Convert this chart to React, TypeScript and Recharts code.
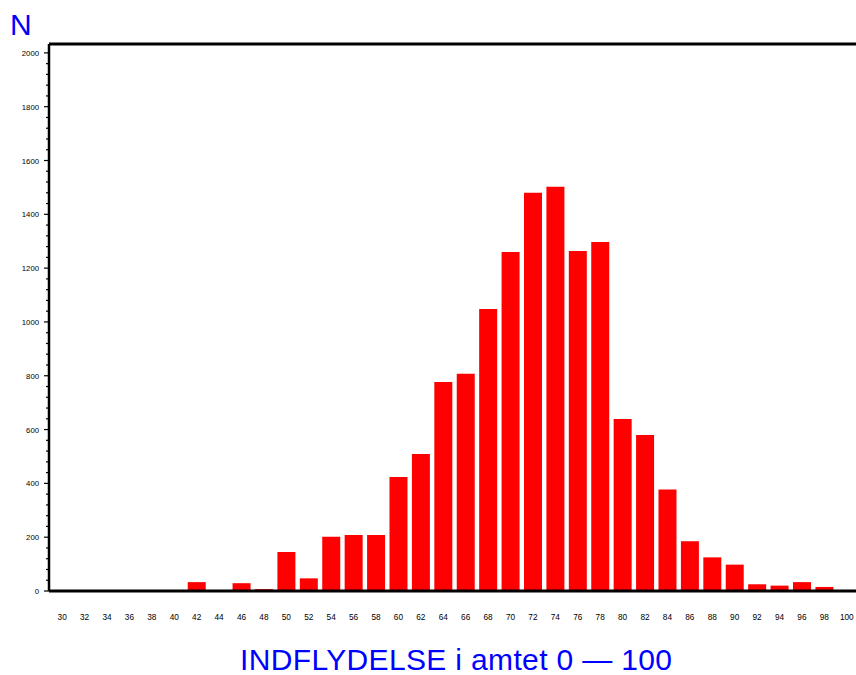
import { BarChart, Bar, XAxis, YAxis, ReferenceLine, Customized } from 'recharts'

// score buckets on the x axis
const categories = [
  '30', '32', '34', '36', '38', '40', '42', '44', '46', '48', '50', '52',
  '54', '56', '58', '60', '62', '64', '66', '68', '70', '72', '74', '76',
  '78', '80', '82', '84', '86', '88', '90', '92', '94', '96', '98', '100',
]

// N per bucket
const counts = [
  0, 0, 0, 0, 0, 0, 33, 0, 29, 7, 145, 47,
  202, 208, 208, 424, 509, 777, 807, 1048, 1260, 1480, 1502, 1264,
  1297, 639, 580, 377, 185, 125, 98, 25, 20, 33, 15, 0,
]

// y ticks every 40, labelled every 200
const yTicks = Array.from({ length: 51 }, (_, i) => i * 40)

const chartData = categories.map((c, i) => ({ score: c, n: counts[i] }))

const BLUE = '#0000ff'
const TICK_FONT = '"Liberation Sans", Arial, sans-serif'

function YTick({ x, y, payload }: any) {
  const major = payload.value % 200 === 0
  const label = String(payload.value)
  return (
    <g>
      <line x1={x - (major ? 5 : 3)} x2={x} y1={y} y2={y} stroke="#000" strokeWidth={1.2} />
      {major && (
        <text
          x={x - 10}
          y={y + 3}
          textAnchor="end"
          fontSize={8}
          fontFamily={TICK_FONT}
          fill="#000"
          textLength={label.length * 4.3}
          lengthAdjust="spacingAndGlyphs"
        >
          {label}
        </text>
      )}
    </g>
  )
}

function XTick({ x, y, payload }: any) {
  const label = String(payload.value)
  return (
    <text
      x={x - (label.length * 4.6) / 2}
      y={y + 29}
      fontSize={9.5}
      fontFamily={TICK_FONT}
      fill="#000"
      textLength={label.length * 4.6}
      lengthAdjust="spacingAndGlyphs"
    >
      {label}
    </text>
  )
}

function Titles() {
  return (
    <g fontFamily={TICK_FONT} fill={BLUE}>
      <text x={10} y={35} fontSize={30}>N</text>
      <text x={240} y={670} fontSize={30} textLength={432} lengthAdjust="spacing">
        INDFLYDELSE i amtet 0 — 100
      </text>
    </g>
  )
}

export default function App() {
  return (
    <div style={{ position: 'absolute', left: 0, top: 0, width: 856, height: 675, overflow: 'hidden', background: '#fff' }}>
      <BarChart
        width={858}
        height={675}
        data={chartData}
        margin={{ top: 44, right: 0, left: 0, bottom: 0 }}
        barCategoryGap="10%"
      >
        <XAxis
          dataKey="score"
          interval={0}
          height={84}
          padding={{ left: 2, right: 0 }}
          tickLine={false}
          tickSize={0}
          tickMargin={0}
          tick={<XTick />}
          axisLine={{ stroke: '#000', strokeWidth: 3 }}
        />
        <YAxis
          width={49}
          domain={[0, 2033]}
          ticks={yTicks}
          interval={0}
          tickLine={false}
          tickSize={0}
          tickMargin={0}
          tick={<YTick />}
          axisLine={{ stroke: '#000', strokeWidth: 2.5 }}
        />
        <ReferenceLine y={2033} stroke="#000" strokeWidth={3} />
        <Bar dataKey="n" fill="#ff0000" isAnimationActive={false} />
        <Customized component={<Titles />} />
      </BarChart>
    </div>
  )
}
